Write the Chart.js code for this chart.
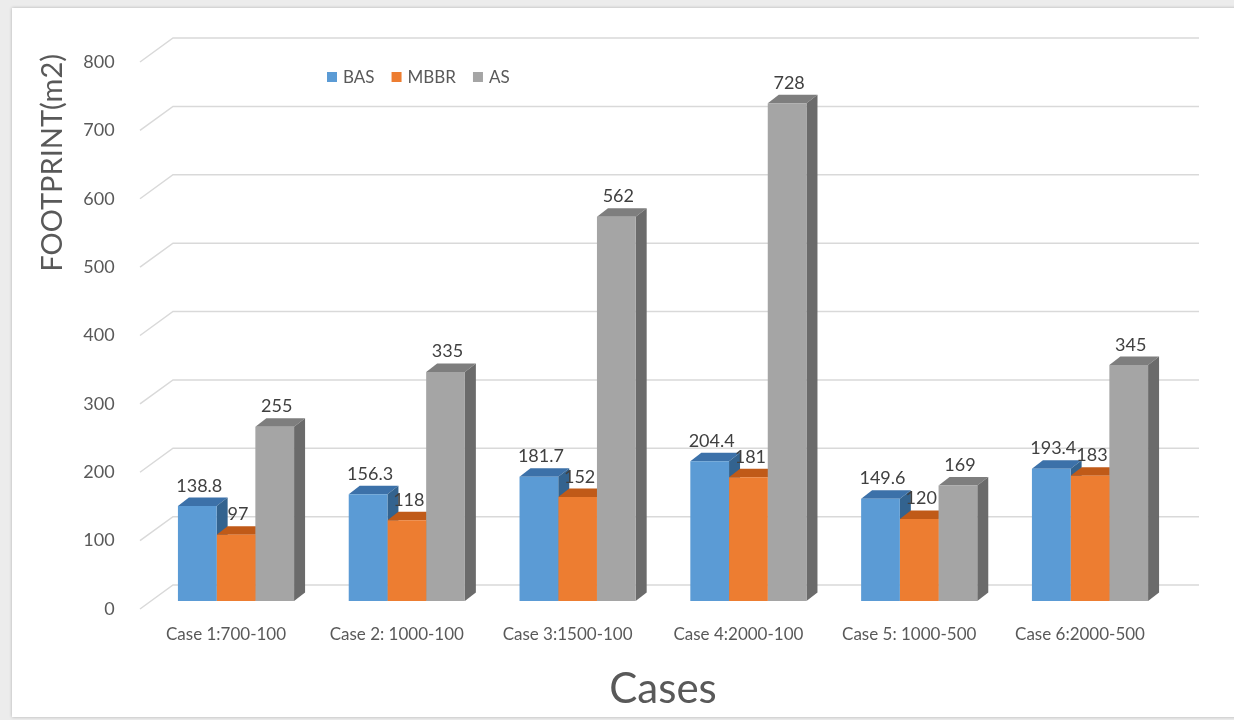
<!DOCTYPE html>
<html>
<head>
<meta charset="utf-8">
<title>Footprint by case</title>
<script src="https://cdn.jsdelivr.net/npm/chart.js@4.4.1/dist/chart.umd.min.js"></script>
<style>
  html, body { margin: 0; padding: 0; }
  body {
    width: 1234px;
    height: 720px;
    background: #ececec;
    position: relative;
    overflow: hidden;
  }
  #card {
    position: absolute;
    left: 12px;
    top: 8px;
    width: 1240px;
    height: 709px;
    background: #ffffff;
    box-shadow: 0 0 3px rgba(0, 0, 0, 0.25);
  }
  #footprintChart {
    position: absolute;
    left: 0;
    top: 0;
  }
</style>
</head>
<body>
<div id="card"></div>
<canvas id="footprintChart" width="1234" height="720"></canvas>

<script>
/* =========================
   DATA
========================= */

const categories = [
  "Case 1:700-100",
  "Case 2: 1000-100",
  "Case 3:1500-100",
  "Case 4:2000-100",
  "Case 5: 1000-500",
  "Case 6:2000-500"
];

const seriesNames = ["BAS", "MBBR", "AS"];

const basValues = [138.8, 156.3, 181.7, 204.4, 149.6, 193.4];
const mbbrValues = [97, 118, 152, 181, 120, 183];
const asValues = [255, 335, 562, 728, 169, 345];

const yMin = 0;
const yMax = 800;
const yStep = 100;

/* =========================
   STYLE
========================= */

const FONT = "Lato, 'Open Sans', sans-serif";
const frontColors = ["#5b9bd5", "#ed7d31", "#a5a5a5"];
const topColors = ["#3c71a9", "#c05a18", "#7e7e7e"];
const sideColors = ["#33638f", "#a84f15", "#6b6b6b"];

// fake depth of the bars
const DX = 11;
const DY = 8.5;

/* =========================
   PLUGINS
========================= */

// back wall grid + bar tops / sides (fronts are drawn by Chart.js after this)
const depthPlugin = {
  id: "depth",
  beforeDatasetsDraw(chart) {
    const { ctx, chartArea, scales } = chart;
    const y = scales.y;

    ctx.save();
    ctx.strokeStyle = "#d9d9d9";
    ctx.lineWidth = 1.5;
    for (let v = yMin; v <= yMax; v += yStep) {
      const py = y.getPixelForValue(v);
      ctx.beginPath();
      ctx.moveTo(chartArea.left - 10.6, py + 8);
      ctx.lineTo(chartArea.left + 22.4, py - 16);
      ctx.lineTo(chartArea.right + 23.6, py - 16);
      ctx.stroke();
    }

    chart.data.datasets.forEach((ds, i) => {
      const meta = chart.getDatasetMeta(i);
      meta.data.forEach(bar => {
        const l = bar.x - bar.width / 2;
        const r = bar.x + bar.width / 2;
        const t = bar.y;
        const b = bar.base;

        // top
        ctx.fillStyle = topColors[i];
        ctx.beginPath();
        ctx.moveTo(l, t);
        ctx.lineTo(l + DX, t - DY);
        ctx.lineTo(r + DX, t - DY);
        ctx.lineTo(r, t);
        ctx.closePath();
        ctx.fill();

        // right side
        ctx.fillStyle = sideColors[i];
        ctx.beginPath();
        ctx.moveTo(r, t);
        ctx.lineTo(r + DX, t - DY);
        ctx.lineTo(r + DX, b - DY);
        ctx.lineTo(r, b);
        ctx.closePath();
        ctx.fill();
      });
    });
    ctx.restore();
  },

  afterDatasetsDraw(chart) {
    const { ctx } = chart;
    ctx.save();
    ctx.font = "18px " + FONT;
    ctx.fillStyle = "#404040";
    ctx.textAlign = "center";
    ctx.textBaseline = "alphabetic";
    chart.data.datasets.forEach((ds, i) => {
      const meta = chart.getDatasetMeta(i);
      meta.data.forEach((bar, j) => {
        ctx.fillText(String(ds.data[j]), bar.x + 2, bar.y - DY - 6);
      });
    });
    ctx.restore();
  }
};

// legend sits inside the plot, left of centre
const legendPlugin = {
  id: "innerLegend",
  afterDraw(chart) {
    const { ctx } = chart;
    let x = 327;
    const cy = 77;
    ctx.save();
    ctx.font = "17px " + FONT;
    ctx.textBaseline = "middle";
    ctx.textAlign = "left";
    chart.data.datasets.forEach((ds, i) => {
      ctx.fillStyle = frontColors[i];
      ctx.fillRect(x, cy - 5, 10, 10);
      x += 16;
      ctx.fillStyle = "#595959";
      ctx.fillText(ds.label, x, cy + 1);
      x += ctx.measureText(ds.label).width + 17;
    });
    ctx.restore();
  }
};

/* =========================
   CHART
========================= */

const ctx = document.getElementById("footprintChart").getContext("2d");

new Chart(ctx, {
  type: "bar",
  data: {
    labels: categories,
    datasets: [
      { label: seriesNames[0], data: basValues, backgroundColor: frontColors[0] },
      { label: seriesNames[1], data: mbbrValues, backgroundColor: frontColors[1] },
      { label: seriesNames[2], data: asValues, backgroundColor: frontColors[2] }
    ]
  },
  options: {
    responsive: false,
    devicePixelRatio: 1,
    animation: false,
    categoryPercentage: 0.68,
    barPercentage: 1.0,
    layout: {
      padding: { left: 0, right: 58.6, top: 54, bottom: 0 }
    },
    plugins: {
      legend: { display: false },
      tooltip: { enabled: false }
    },
    scales: {
      x: {
        grid: { display: false },
        border: { display: false },
        ticks: {
          autoSkip: false,
          maxRotation: 0,
          padding: 15,
          labelOffset: -10,
          color: "#595959",
          font: { family: FONT, size: 17 }
        },
        title: {
          display: true,
          text: "Cases",
          color: "#595959",
          font: { family: FONT, size: 42 },
          padding: { top: 0, bottom: 5.8 }
        },
        afterFit: s => { s.height = 119; }
      },
      y: {
        min: yMin,
        max: yMax,
        grid: { display: false },
        border: { display: false },
        ticks: {
          stepSize: yStep,
          padding: 28,
          labelOffset: 8,
          color: "#595959",
          font: { family: FONT, size: 18 }
        },
        title: {
          display: true,
          text: "FOOTPRINT(m2)",
          align: "end",
          color: "#595959",
          font: { family: FONT, size: 29 },
          padding: { top: 35.6, bottom: 0 }
        },
        afterFit: s => { s.width = 150.6; }
      }
    }
  },
  plugins: [depthPlugin, legendPlugin]
});
</script>
</body>
</html>
